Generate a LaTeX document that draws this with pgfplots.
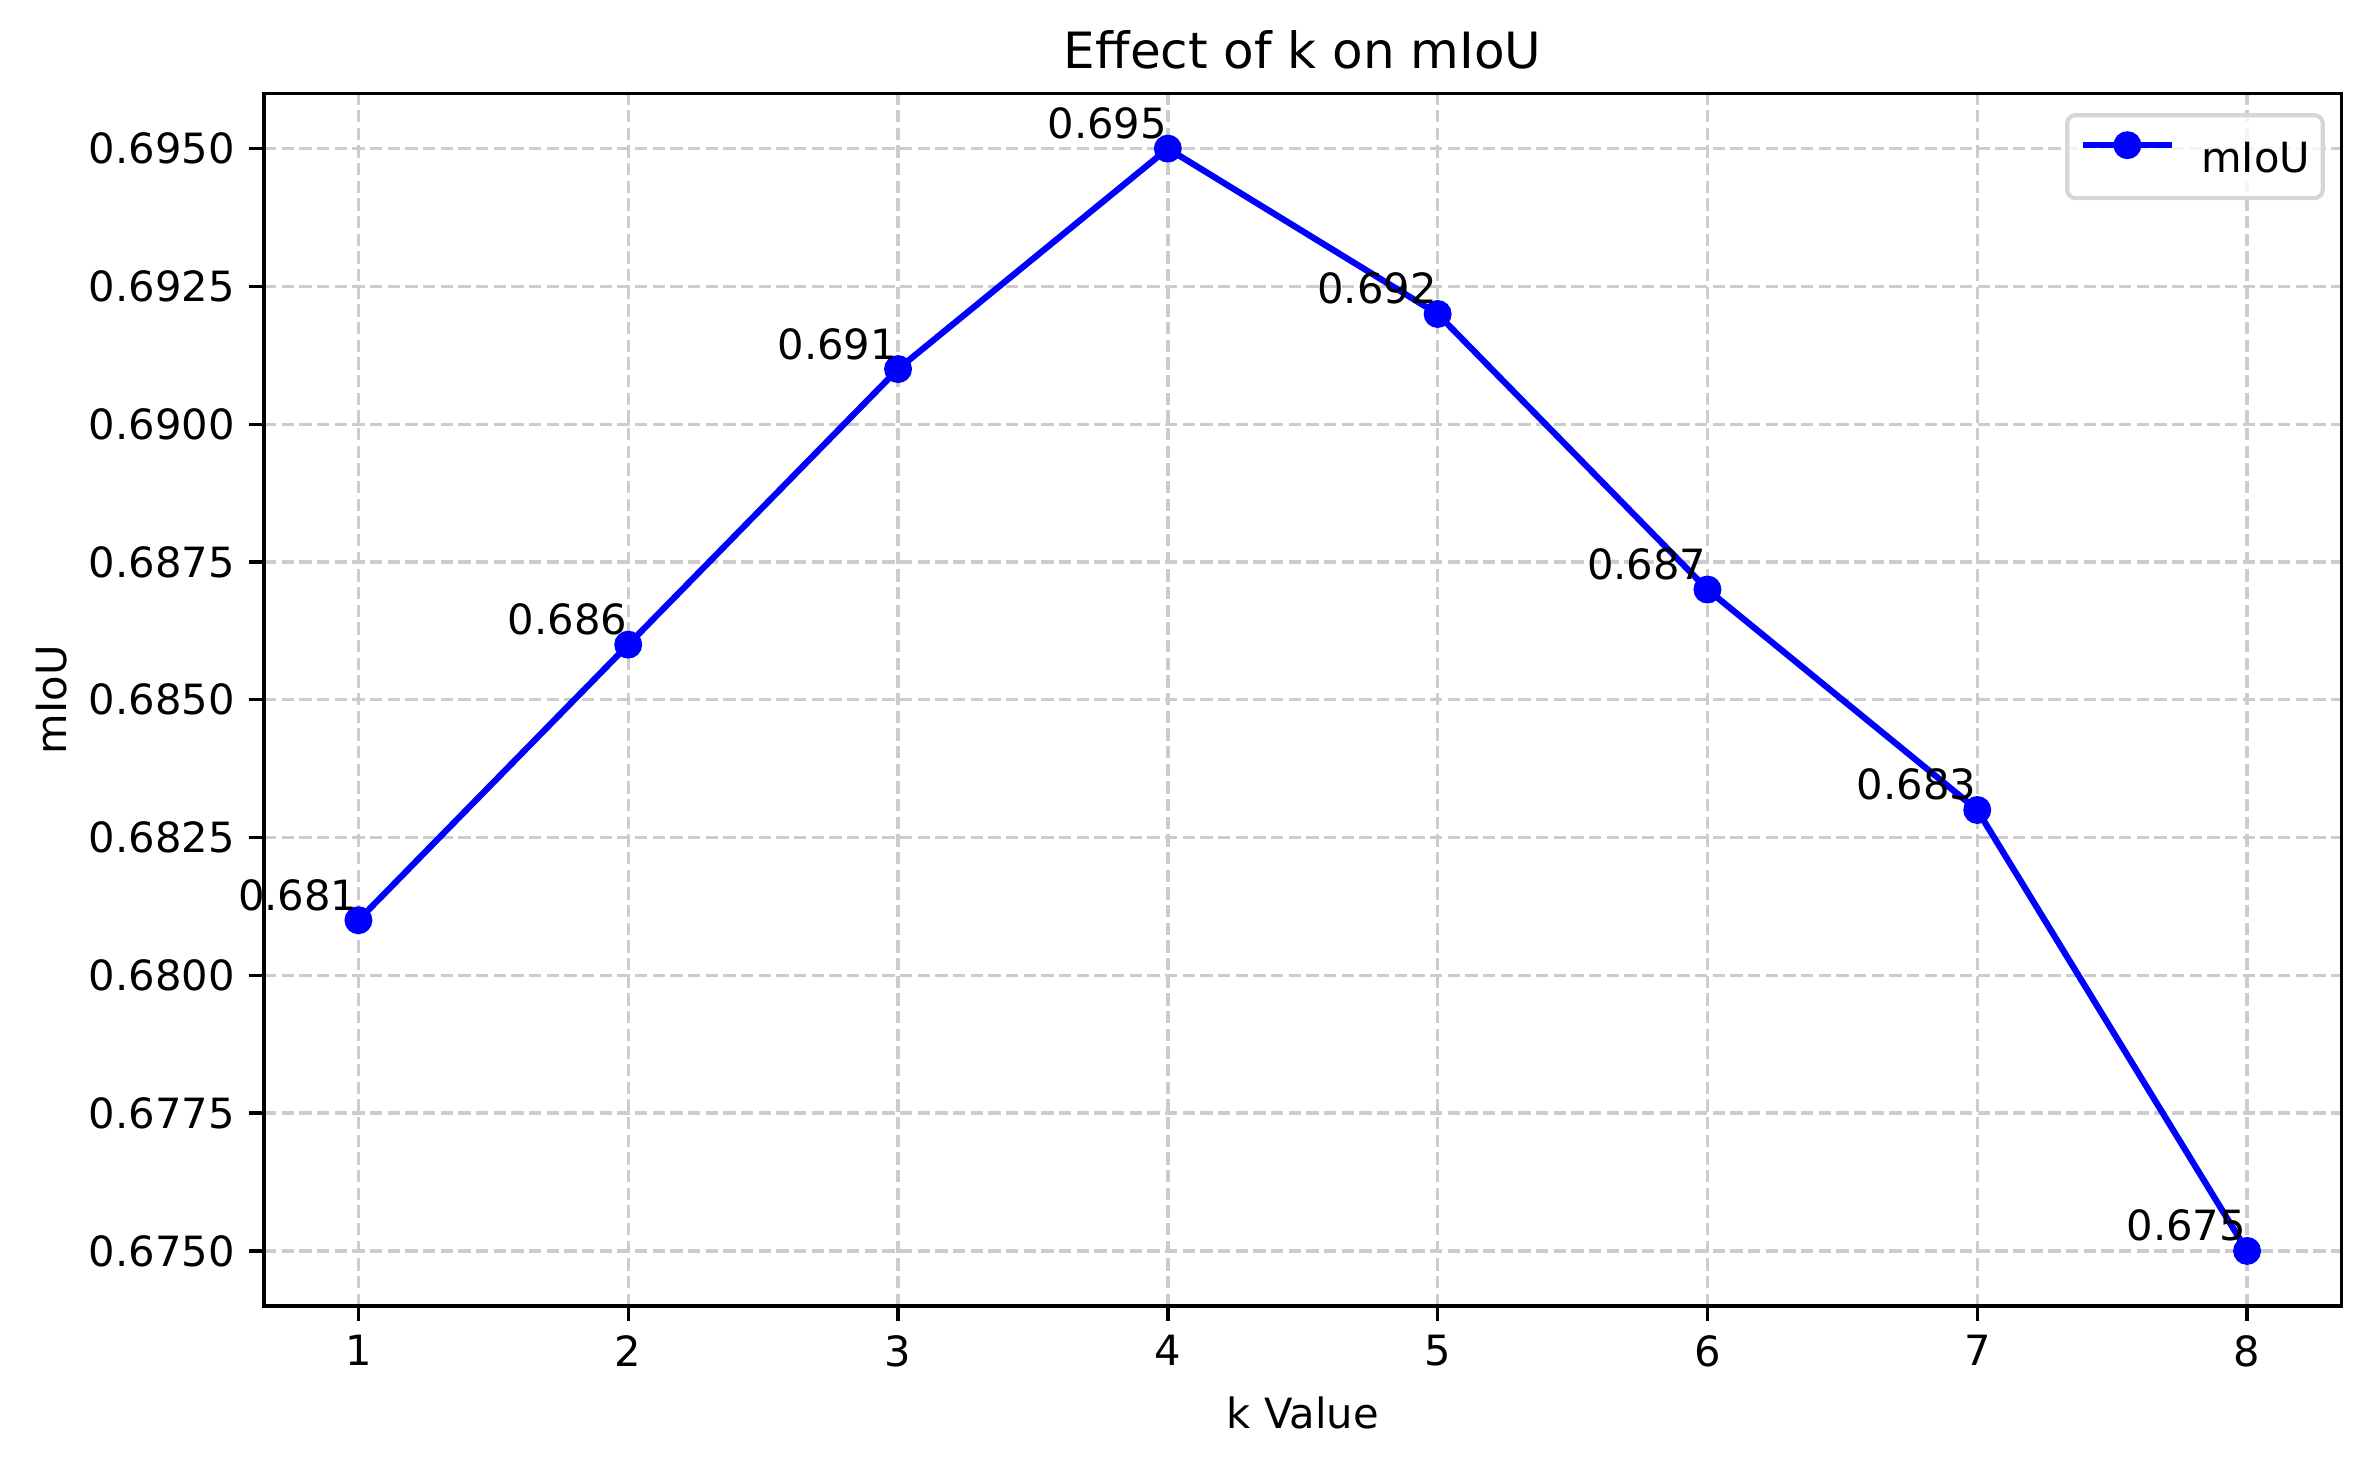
\documentclass[border=0pt]{standalone}
\usepackage{fontspec}
\setmainfont{DejaVu Sans}
\usepackage{pgfplots}
\pgfplotsset{compat=1.18}
\definecolor{gridgray}{RGB}{204,204,204}
\definecolor{legframe}{RGB}{214,214,214}
\begin{document}
\begin{tikzpicture}
\begin{axis}[
  scale only axis, width=498.6pt, height=291.0pt,
  xmin=0.65, xmax=8.35, ymin=0.674, ymax=0.696,
  xtick={1,2,3,4,5,6,7,8},
  ytick={0.675,0.6775,0.68,0.6825,0.685,0.6875,0.69,0.6925,0.695},
  scaled y ticks=false,
  /pgf/number format/assume math mode=true,
  yticklabel style={/pgf/number format/.cd, fixed, fixed zerofill, precision=4},
  ticklabel style={font=\fontsize{10}{12}\selectfont},
  grid=major,
  major grid style={gridgray, line width=0.8pt, dash pattern=on 2.96pt off 1.28pt},
  axis line style={black, line width=0.8pt},
  tick align=outside, major tick length=3.5pt,
  tick style={black, line width=0.8pt},
  tick pos=left,
  title={Effect of k on mIoU},
  title style={at={(axis description cs:0.5,1)}, anchor=base, yshift=0pt, inner sep=0pt, font=\fontsize{12}{14}\selectfont},
  xlabel={k Value},
  xlabel style={at={(axis description cs:0.5,-0.1006)}, anchor=base, inner sep=0pt, font=\fontsize{10}{12}\selectfont},
  ylabel={mIoU},
  ylabel style={at={(axis description cs:-0.09496,0.5)}, anchor=base, inner sep=0pt, font=\fontsize{10}{12}\selectfont},
  legend style={at={(axis description cs:1,1)}, anchor=north east, xshift=-4pt, yshift=-4.7pt,
    draw=legframe, line width=1pt, rounded corners=2pt, inner xsep=3pt, inner ysep=4.1pt,
    fill=white, fill opacity=0.8, draw opacity=1, text opacity=1,
    nodes={inner sep=0pt, text height=8pt, text depth=2pt},
    font=\fontsize{10}{12}\selectfont},
  legend image code/.code={
    \draw[mark repeat=2,mark phase=2,#1,opacity=1] plot coordinates {(0pt,3.6pt) (10.7pt,3.6pt) (21.4pt,3.6pt)};
    \path (27.7pt,3.6pt);
  },
]
\addplot[color=blue, line width=1.5pt, mark=*, mark size=3.1pt,
  mark options={solid, fill=blue, draw=blue, line width=0.5pt},
  nodes near coords={\pgfmathprintnumber[fixed,precision=3]{\pgfplotspointmeta}},
  nodes near coords style={anchor=base east, inner sep=0pt, yshift=2.4pt, text=black, font=\fontsize{10}{12}\selectfont},
] coordinates {
  (1,0.681) (2,0.686) (3,0.691) (4,0.695) (5,0.692) (6,0.687) (7,0.683) (8,0.675)
};
\addlegendentry{mIoU}
\end{axis}
\pgfresetboundingbox
\path[use as bounding box] (-63.36pt,-38.4pt) rectangle (505.44pt,313.44pt);
\end{tikzpicture}
\end{document}
